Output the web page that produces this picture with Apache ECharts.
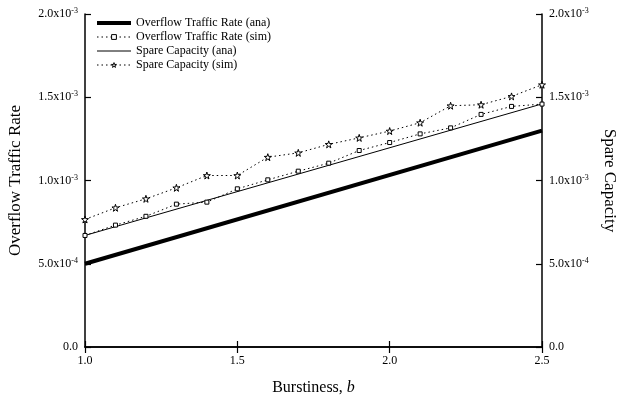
<!DOCTYPE html>
<html>
<head>
<meta charset="utf-8">
<script src="https://cdn.jsdelivr.net/npm/echarts@6/dist/echarts.min.js"></script>
<style>html,body{margin:0;padding:0;background:#fff}#c{width:618px;height:403px}</style>
</head>
<body>
<div id="c"></div>
<script>
// Burstiness values
var bAna = [1.0, 2.5];
var bSim = [1.0, 1.1, 1.2, 1.3, 1.4, 1.5, 1.6, 1.7, 1.8, 1.9, 2.0, 2.1, 2.2, 2.3, 2.4, 2.5];
// Series values
var overflowAna = [0.000500, 0.001300];
var overflowSim = [0.000670, 0.000732, 0.000785, 0.000858, 0.000870, 0.000950, 0.001004, 0.001056,
                   0.001104, 0.001180, 0.001228, 0.001280, 0.001316, 0.001397, 0.001445, 0.001459];
var spareAna = [0.000670, 0.001460];
var spareSim = [0.000766, 0.000836, 0.000890, 0.000956, 0.001030, 0.001030, 0.001140, 0.001166,
                0.001217, 0.001256, 0.001297, 0.001347, 0.001449, 0.001455, 0.001505, 0.001575];
// Tick labels
var yTickMant = ['0.0', '5.0', '1.0', '1.5', '2.0'];
var yTickExp = ['', '-4', '-3', '-3', '-3'];
var seriesNames = ['Overflow Traffic Rate (ana)', 'Overflow Traffic Rate (sim)', 'Spare Capacity (ana)', 'Spare Capacity (sim)'];

var FONT = 'Liberation Serif';
var star = 'path://M50,0 L61,35 L98,35 L68,57 L79,91 L50,70 L21,91 L32,57 L2,35 L39,35 Z';

function pairs(xs, ys) { return xs.map(function (x, i) { return [x, ys[i]]; }); }
function yFmt(v) {
  var i = Math.round(v / 0.0005);
  if (!yTickExp[i]) return yTickMant[i];
  return yTickMant[i] + 'x10{s|' + yTickExp[i] + '}';
}
var yLabel = {
  formatter: yFmt, color: '#000', fontFamily: FONT, fontSize: 12, margin: 7,
  rich: { s: { fontSize: 8, verticalAlign: 'top', padding: [0, 0, 6, 0], fontFamily: FONT, color: '#000' } }
};
var axisLine = { show: true, lineStyle: { color: '#000', width: 1.5 } };
var tick = { show: true, inside: true, length: 6, lineStyle: { color: '#000', width: 1.2 } };
var hiddenSym = { color: 'rgba(0,0,0,0)', borderWidth: 0, opacity: 0 };
var openSym = { color: '#fff', borderColor: '#000', borderWidth: 1 };

var chart = echarts.init(document.getElementById('c'), null, { renderer: 'canvas' });
chart.setOption({
  backgroundColor: '#fff',
  animation: false,
  grid: { left: 85, right: 76, top: 14, bottom: 56, containLabel: false, outerBoundsMode: 'none' },
  legend: {
    data: [
      { name: seriesNames[0], lineStyle: { width: 4, color: '#000' }, itemStyle: hiddenSym },
      { name: seriesNames[1], lineStyle: { width: 1, color: '#000', type: [1.5, 3] }, itemStyle: openSym },
      { name: seriesNames[2], lineStyle: { width: 1, color: '#000' }, itemStyle: hiddenSym },
      { name: seriesNames[3], lineStyle: { width: 1, color: '#000', type: [1.5, 3] }, itemStyle: openSym }
    ],
    orient: 'vertical', left: 90, top: 12,
    itemWidth: 34, itemHeight: 6, itemGap: 2,
    textStyle: { fontFamily: FONT, fontSize: 12, color: '#000' }
  },
  xAxis: [{
    type: 'value', min: 1, max: 2.5, interval: 0.5,
    name: '{a|Burstiness, }{i|b}', nameLocation: 'middle', nameGap: 33,
    nameTextStyle: { rich: { a: { fontFamily: FONT, fontSize: 16, color: '#000' }, i: { fontFamily: FONT, fontSize: 16, fontStyle: 'italic', color: '#000' } } },
    axisLine: axisLine, axisTick: tick, splitLine: { show: false },
    axisLabel: { formatter: function (v) { return v.toFixed(1); }, color: '#000', fontFamily: FONT, fontSize: 12, margin: 8 }
  }, {
    type: 'value', position: 'top', min: 1, max: 2.5, interval: 0.5,
    axisLine: axisLine, axisTick: tick, splitLine: { show: false }, axisLabel: { show: false }
  }],
  yAxis: [{
    type: 'value', min: 0, max: 0.002, interval: 0.0005,
    name: 'Overflow Traffic Rate', nameLocation: 'middle', nameGap: 61,
    nameTextStyle: { fontFamily: FONT, fontSize: 17, color: '#000' },
    axisLine: axisLine, axisTick: tick, splitLine: { show: false }, axisLabel: yLabel
  }, {
    type: 'value', position: 'right', min: 0, max: 0.002, interval: 0.0005,
    name: 'Spare Capacity', nameLocation: 'middle', nameGap: 59, nameRotate: -90,
    nameTextStyle: { fontFamily: FONT, fontSize: 17, color: '#000' },
    axisLine: axisLine, axisTick: tick, splitLine: { show: false }, axisLabel: yLabel
  }],
  series: [{
    name: seriesNames[0], type: 'line', xAxisIndex: 0, yAxisIndex: 0,
    data: pairs(bAna, overflowAna), symbol: 'none',
    lineStyle: { color: '#000', width: 4 }, itemStyle: { color: '#000' }
  }, {
    name: seriesNames[1], type: 'line', xAxisIndex: 0, yAxisIndex: 0,
    data: pairs(bSim, overflowSim), symbol: 'rect', symbolSize: 4, showSymbol: true,
    lineStyle: { color: '#000', width: 1, type: [1.5, 3] },
    itemStyle: openSym
  }, {
    name: seriesNames[2], type: 'line', xAxisIndex: 0, yAxisIndex: 1,
    data: pairs(bAna, spareAna), symbol: 'none',
    lineStyle: { color: '#000', width: 1 }, itemStyle: { color: '#000' }
  }, {
    name: seriesNames[3], type: 'line', xAxisIndex: 0, yAxisIndex: 1,
    data: pairs(bSim, spareSim), symbol: star, symbolSize: 7, showSymbol: true,
    lineStyle: { color: '#000', width: 1, type: [1.5, 3] },
    itemStyle: openSym
  }]
});
</script>
</body>
</html>
